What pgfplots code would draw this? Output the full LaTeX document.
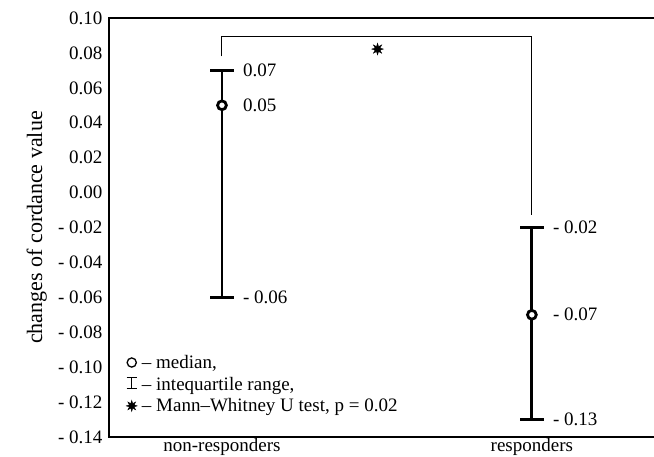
\documentclass[border=0pt]{standalone}
\usepackage{fontspec}
\setmainfont{Liberation Serif}
\usepackage{pgfplots}
\pgfplotsset{compat=1.18}
\pgfdeclareplotmark{star8}{%
  \pgfpathmoveto{\pgfpointpolar{0}{\pgfplotmarksize}}%
  \pgfpathlineto{\pgfpointpolar{22.5}{0.45\pgfplotmarksize}}%
  \pgfpathlineto{\pgfpointpolar{45}{\pgfplotmarksize}}%
  \pgfpathlineto{\pgfpointpolar{67.5}{0.45\pgfplotmarksize}}%
  \pgfpathlineto{\pgfpointpolar{90}{\pgfplotmarksize}}%
  \pgfpathlineto{\pgfpointpolar{112.5}{0.45\pgfplotmarksize}}%
  \pgfpathlineto{\pgfpointpolar{135}{\pgfplotmarksize}}%
  \pgfpathlineto{\pgfpointpolar{157.5}{0.45\pgfplotmarksize}}%
  \pgfpathlineto{\pgfpointpolar{180}{\pgfplotmarksize}}%
  \pgfpathlineto{\pgfpointpolar{202.5}{0.45\pgfplotmarksize}}%
  \pgfpathlineto{\pgfpointpolar{225}{\pgfplotmarksize}}%
  \pgfpathlineto{\pgfpointpolar{247.5}{0.45\pgfplotmarksize}}%
  \pgfpathlineto{\pgfpointpolar{270}{\pgfplotmarksize}}%
  \pgfpathlineto{\pgfpointpolar{292.5}{0.45\pgfplotmarksize}}%
  \pgfpathlineto{\pgfpointpolar{315}{\pgfplotmarksize}}%
  \pgfpathlineto{\pgfpointpolar{337.5}{0.45\pgfplotmarksize}}%
  \pgfpathclose
  \pgfusepathqfillstroke
}
\newcommand{\lbl}{\fontsize{19}{23}\selectfont}
\begin{document}
\begin{tikzpicture}
\begin{axis}[
  scale only axis, width=545pt, height=419pt,
  at={(0,0)}, anchor=south west,
  xmin=-0.3645, xmax=1.394, ymin=-0.14, ymax=0.10,
  axis line style={draw=none},
  major tick length=0pt,
  xtick={0,1}, xticklabels={non-responders, responders},
  ytick={-0.14,-0.12,-0.10,-0.08,-0.06,-0.04,-0.02,0,0.02,0.04,0.06,0.08,0.10},
  yticklabels={- 0.14,- 0.12,- 0.10,- 0.08,- 0.06,- 0.04,- 0.02,0.00,0.02,0.04,0.06,0.08,0.10},
  tick label style={font=\lbl},
  yticklabel style={anchor=east, xshift=-3pt},
  xticklabel style={anchor=base, yshift=-14.5pt},
  every axis y label/.style={at={(axis description cs:-0.1229,0.5)}, rotate=90, anchor=base, font=\fontsize{22}{26}\selectfont},
  ylabel={changes of cordance value},
  clip=false,
  legend style={draw=none, fill=none, at={(rel axis cs:0.031,0.2017)}, anchor=north west, font=\lbl, inner sep=0pt, row sep=2pt, nodes={inner sep=2.5pt}},
  legend cell align=left,
]
\draw[line width=1.2pt] (rel axis cs:1,1) -- (rel axis cs:0,1) -- (rel axis cs:0,0) -- (rel axis cs:1,0);
% significance bracket
\addplot[black, line width=1pt, sharp plot, no marks, forget plot] coordinates {(0,0.078) (0,0.0895) (1,0.0895) (1,-0.0128)};
% interquartile ranges (Q1 to Q3, caps at the ends)
\addplot[black, line width=2.8pt, mark=-, mark size=11.8pt, forget plot] coordinates {(0,-0.06) (0,0.07)};
\addplot[black, line width=2.8pt, mark=-, mark size=11.8pt, forget plot] coordinates {(1,-0.13) (1,-0.02)};
% medians
\addplot[only marks, mark=*, mark size=4.4pt, mark options={fill=white, draw=black, line width=2.8pt}, forget plot]
  coordinates {(0,0.05) (1,-0.07)};
% significance star
\addplot[only marks, mark=star8, mark size=6pt, mark options={fill=black, draw=black, line width=0.3pt}, forget plot]
  coordinates {(0.502,0.0822)};
\node[anchor=west, font=\lbl, inner sep=0pt, xshift=21pt] at (axis cs:0,0.07) {0.07};
\node[anchor=west, font=\lbl, inner sep=0pt, xshift=21pt] at (axis cs:0,0.05) {0.05};
\node[anchor=west, font=\lbl, inner sep=0pt, xshift=21pt] at (axis cs:0,-0.06) {- 0.06};
\node[anchor=west, font=\lbl, inner sep=0pt, xshift=21pt] at (axis cs:1,-0.02) {- 0.02};
\node[anchor=west, font=\lbl, inner sep=0pt, xshift=21pt] at (axis cs:1,-0.07) {- 0.07};
\node[anchor=west, font=\lbl, inner sep=0pt, xshift=21pt] at (axis cs:1,-0.13) {- 0.13};
\addlegendimage{legend image code/.code={\path (0pt,0pt) (12.5pt,0pt); \draw[line width=1.3pt] (5pt,0pt) circle (4.6pt);}}
\addlegendentry{-- median,}
\addlegendimage{legend image code/.code={\path (0pt,0pt) (12.5pt,0pt); \draw[line width=1.3pt] (0pt,-4.5pt) -- (10pt,-4.5pt) (5pt,-4.5pt) -- (5pt,6.5pt) (0pt,6.5pt) -- (10pt,6.5pt);}}
\addlegendentry{-- intequartile range,}
\addlegendimage{legend image code/.code={\path (0pt,0pt) (12.5pt,0pt); \pgfextra{\pgftransformshift{\pgfqpoint{5pt}{0pt}}\pgfsetplotmarksize{5.5pt}\pgfuseplotmark{star8}};}}
\addlegendentry{-- Mann--Whitney U test, p = 0.02}
\end{axis}
\pgfresetboundingbox
\useasboundingbox (-109pt,-19pt) rectangle (545pt,437pt);
\end{tikzpicture}
\end{document}
